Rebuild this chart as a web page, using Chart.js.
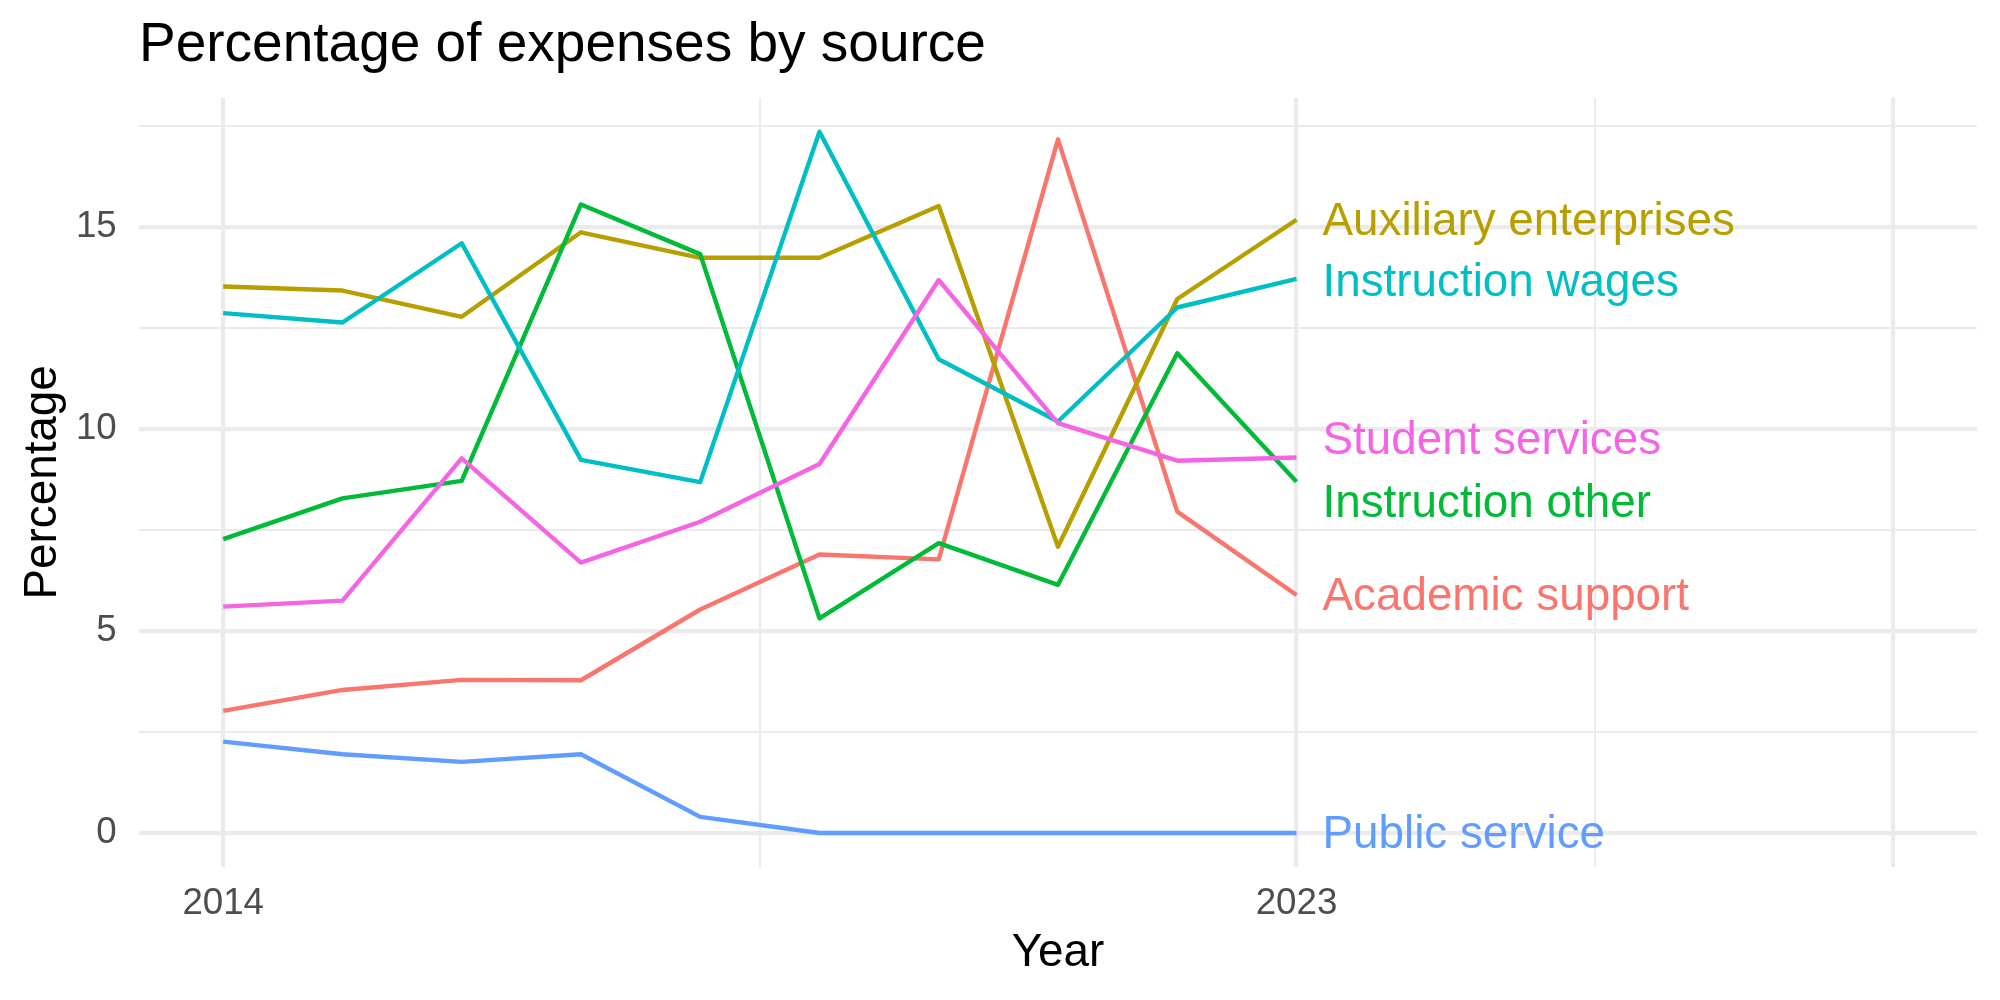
<!DOCTYPE html>
<html>
<head>
<meta charset="utf-8">
<title>Percentage of expenses by source</title>
<script src="https://cdn.jsdelivr.net/npm/chart.js@4.4.1/dist/chart.umd.min.js"></script>
<style>
  html, body { margin: 0; padding: 0; background: #fff; }
  #wrap { width: 2000px; height: 1000px; position: relative; }
</style>
</head>
<body>
<div id="wrap"><canvas id="myChart"></canvas></div>
<script>
// data
const years = [2014, 2015, 2016, 2017, 2018, 2019, 2020, 2021, 2022, 2023];

const academicSupport      = [3.02, 3.54, 3.79, 3.78, 5.53, 6.89, 6.77, 17.16, 7.95, 5.89];
const auxiliaryEnterprises = [13.52, 13.42, 12.77, 14.86, 14.23, 14.23, 15.51, 7.08, 13.21, 15.17];
const instructionOther     = [7.27, 8.28, 8.71, 15.55, 14.32, 5.31, 7.17, 6.14, 11.87, 8.69];
const instructionWages     = [12.86, 12.63, 14.59, 9.23, 8.68, 17.35, 11.72, 10.18, 13.00, 13.71];
const publicService        = [2.26, 1.95, 1.76, 1.95, 0.40, 0, 0, 0, 0, 0];
const studentServices      = [5.60, 5.75, 9.27, 6.69, 7.70, 9.13, 13.68, 10.14, 9.21, 9.29];

const seriesNames = ['Academic support', 'Auxiliary enterprises', 'Instruction other',
                     'Instruction wages', 'Public service', 'Student services'];
const seriesValues = [academicSupport, auxiliaryEnterprises, instructionOther,
                      instructionWages, publicService, studentServices];
const seriesColors = ['#F8766D', '#B79F00', '#00BA38', '#00BFC4', '#619CFF', '#F564E3'];

// where the end labels sit (value on the y axis, repelled a little)
const labelYear = 2023;
const labelY = [5.83, 15.11, 8.12, 13.59, -0.05, 9.68];

// tick / grid positions
const xTicks = [2014, 2018.5, 2023, 2025.5, 2028];
const xMajor = [2014, 2023, 2028];
const xTickLabels = { 2014: '2014', 2023: '2023' };
const yTicks = [0, 2.5, 5, 7.5, 10, 12.5, 15, 17.5];
const yTickLabels = { 0: '0', 5: '5', 10: '10', 15: '15' };

const FONT = '"Liberation Sans", Arial, Helvetica, sans-serif';
const gridColor = '#EBEBEB';

const datasets = seriesNames.map((name, i) => ({
    label: name,
    data: years.map((yr, j) => ({ x: yr, y: seriesValues[i][j] })),
    borderColor: seriesColors[i],
    backgroundColor: seriesColors[i],
    borderWidth: 4.4,
    borderJoinStyle: 'round',
    pointRadius: 0,
    tension: 0,
    fill: false,
    order: seriesNames.length - i   // later series drawn on top, like ggplot
}));

// end-of-line labels
const endLabels = {
    id: 'endLabels',
    afterDatasetsDraw(chart) {
        const ctx = chart.ctx;
        const xs = chart.scales.x, ys = chart.scales.y;
        ctx.save();
        ctx.font = '45.8px ' + FONT;
        ctx.textAlign = 'left';
        ctx.textBaseline = 'middle';
        seriesNames.forEach((name, i) => {
            ctx.fillStyle = seriesColors[i];
            ctx.fillText(name, xs.getPixelForValue(labelYear) + 26, ys.getPixelForValue(labelY[i]));
        });
        ctx.restore();
    }
};

const ctx = document.getElementById('myChart').getContext('2d');
const myChart = new Chart(ctx, {
    type: 'line',
    data: { datasets: datasets },
    options: {
        responsive: true,
        maintainAspectRatio: false,
        animation: false,
        layout: { padding: { left: 0, right: 23, top: 0, bottom: 0 } },
        plugins: {
            legend: { display: false },
            tooltip: { enabled: false },
            title: {
                display: true,
                text: 'Percentage of expenses by source',
                align: 'start',
                fullSize: false,
                color: '#000',
                font: { family: FONT, size: 55, weight: 'normal', lineHeight: 1.2 },
                padding: { top: 12.6, bottom: 19.1 }
            }
        },
        scales: {
            x: {
                type: 'linear',
                min: 2013.294,
                max: 2028.706,
                afterBuildTicks: s => { s.ticks = xTicks.map(v => ({ value: v })); },
                afterFit: s => { s.height = 133; },
                border: { display: false },
                grid: {
                    color: gridColor,
                    drawTicks: false,
                    lineWidth: c => (c.tick && xMajor.includes(c.tick.value)) ? 4.2 : 2.1
                },
                ticks: {
                    autoSkip: false,
                    maxRotation: 0,
                    padding: 15.3,
                    color: '#4D4D4D',
                    font: { family: FONT, size: 36.7 },
                    callback: v => xTickLabels[v] || ''
                },
                title: {
                    display: true,
                    text: 'Year',
                    color: '#000',
                    font: { family: FONT, size: 45.8, lineHeight: 1.2 },
                    padding: { top: 0, bottom: 19.6 }
                }
            },
            y: {
                type: 'linear',
                min: -0.84,
                max: 18.19,
                afterBuildTicks: s => { s.ticks = yTicks.map(v => ({ value: v })); },
                afterFit: s => { s.width = 139; },
                border: { display: false },
                grid: {
                    color: gridColor,
                    drawTicks: false,
                    lineWidth: c => (c.tick && yTickLabels[c.tick.value] !== undefined) ? 4.2 : 2.1
                },
                ticks: {
                    padding: 22.3,
                    crossAlign: 'near',
                    color: '#4D4D4D',
                    font: { family: FONT, size: 36.7 },
                    callback: v => yTickLabels[v] || ''
                },
                title: {
                    display: true,
                    text: 'Percentage',
                    color: '#000',
                    font: { family: FONT, size: 45.8, lineHeight: 1.2 },
                    padding: { top: 16, bottom: 0 }
                }
            }
        }
    },
    plugins: [endLabels]
});
</script>
</body>
</html>
